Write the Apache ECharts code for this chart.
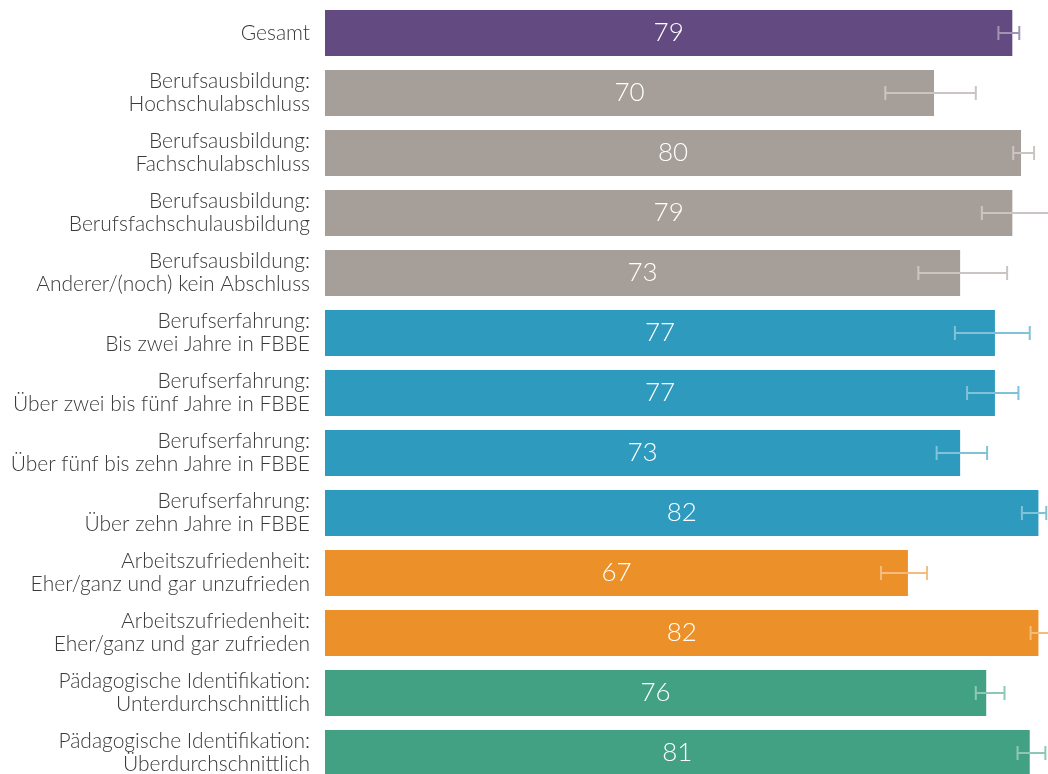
<!DOCTYPE html>
<html>
<head>
<meta charset="utf-8">
<script src="https://cdn.jsdelivr.net/npm/echarts@6/dist/echarts.min.js"></script>
<style>
  html, body { margin: 0; padding: 0; background: #fff; overflow: hidden; }
  #chart { width: 1048px; height: 790px; }
</style>
</head>
<body>
<div id="chart"></div>
<script>
// Kategorien (oben nach unten)
const categories = [
  'Gesamt',
  'Berufsausbildung:\nHochschulabschluss',
  'Berufsausbildung:\nFachschulabschluss',
  'Berufsausbildung:\nBerufsfachschulausbildung',
  'Berufsausbildung:\nAnderer/(noch) kein Abschluss',
  'Berufserfahrung:\nBis zwei Jahre in FBBE',
  'Berufserfahrung:\nÜber zwei bis fünf Jahre in FBBE',
  'Berufserfahrung:\nÜber fünf bis zehn Jahre in FBBE',
  'Berufserfahrung:\nÜber zehn Jahre in FBBE',
  'Arbeitszufriedenheit:\nEher/ganz und gar unzufrieden',
  'Arbeitszufriedenheit:\nEher/ganz und gar zufrieden',
  'Pädagogische Identifikation:\nUnterdurchschnittlich',
  'Pädagogische Identifikation:\nÜberdurchschnittlich'
]
const groups = ['gesamt', 'ausbildung', 'ausbildung', 'ausbildung', 'ausbildung',
  'erfahrung', 'erfahrung', 'erfahrung', 'erfahrung',
  'zufriedenheit', 'zufriedenheit', 'identifikation', 'identifikation']
const values = [79, 70, 80, 79, 73, 77, 77, 73, 82, 67, 82, 76, 81]
const ciLow = [77.4, 64.4, 79.1, 75.5, 68.2, 72.4, 73.8, 70.3, 80.1, 63.9, 81.1, 74.8, 79.6]
const ciHigh = [79.8, 74.8, 81.5, 85.0, 78.4, 81.0, 79.7, 76.1, 82.9, 69.2, 84.0, 78.1, 82.8]

const groupColors = {
  gesamt: '#634b82',
  ausbildung: '#a69f99',
  erfahrung: '#2e9abe',
  zufriedenheit: '#ec9129',
  identifikation: '#42a183'
}

// Farbe mit Weiß mischen (für Fehlerbalken)
function tint(hex, t) {
  const n = parseInt(hex.slice(1), 16)
  const c = [(n >> 16) & 255, (n >> 8) & 255, n & 255].map(v => Math.round(v + (255 - v) * t))
  return 'rgb(' + c.join(',') + ')'
}

const fontFamily = '"Source Sans Pro", Lato, "Noto Sans", sans-serif'
const chart = echarts.init(document.getElementById('chart'))

chart.setOption({
  animation: false,
  grid: { left: 325, right: 0, top: 3, height: 780, containLabel: false },
  xAxis: { type: 'value', min: 0, max: 83.1, show: false },
  yAxis: {
    type: 'category',
    data: categories,
    inverse: true,
    axisLine: { show: false },
    axisTick: { show: false },
    axisLabel: {
      margin: 15,
      color: '#3a3a3a',
      fontSize: 21,
      lineHeight: 23,
      fontWeight: 300,
      fontFamily: fontFamily,
      align: 'right'
    }
  },
  series: [
    {
      type: 'bar',
      barWidth: 46,
      data: values.map((v, i) => ({ value: v, itemStyle: { color: groupColors[groups[i]] } })),
      label: {
        show: true,
        position: 'inside',
        color: '#fff',
        fontSize: 26,
        fontWeight: 300,
        fontFamily: fontFamily
      }
    },
    {
      type: 'custom',
      clip: false,
      data: ciLow.map((lo, i) => [i, lo, ciHigh[i]]),
      renderItem: function (params, api) {
        const i = api.value(0)
        const p1 = api.coord([api.value(1), i])
        const p2 = api.coord([api.value(2), i])
        const h = 7
        const style = { stroke: tint(groupColors[groups[i]], 0.4), lineWidth: 2 }
        return {
          type: 'group',
          children: [
            { type: 'line', shape: { x1: p1[0], y1: p1[1], x2: p2[0], y2: p2[1] }, style: style },
            { type: 'line', shape: { x1: p1[0], y1: p1[1] - h, x2: p1[0], y2: p1[1] + h }, style: style },
            { type: 'line', shape: { x1: p2[0], y1: p2[1] - h, x2: p2[0], y2: p2[1] + h }, style: style }
          ]
        }
      },
      encode: { x: [1, 2], y: 0 },
      z: 3
    }
  ]
})
</script>
</body>
</html>
